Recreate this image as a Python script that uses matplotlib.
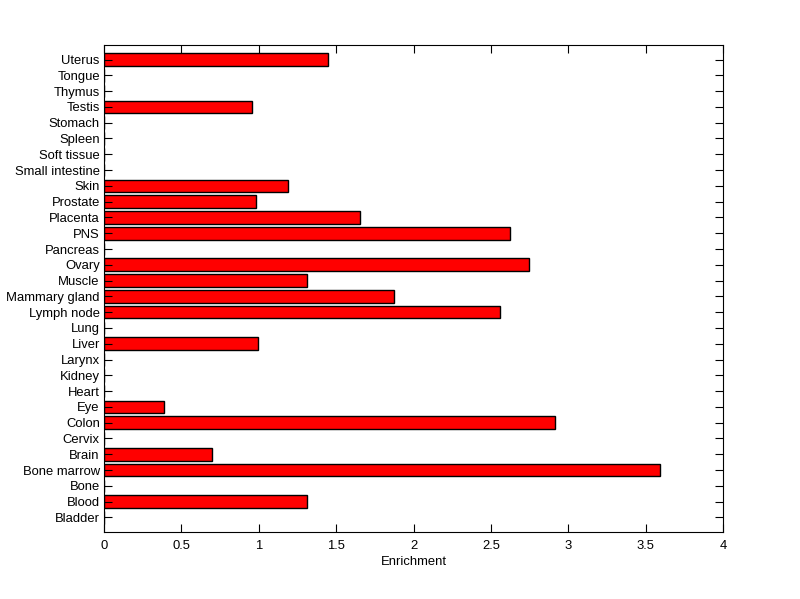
import numpy as np
import matplotlib
matplotlib.use('Agg')
import matplotlib.pyplot as plt

plt.rcParams['font.family'] = ['Liberation Sans', 'DejaVu Sans']

# tissues, bottom to top
tissues = ['Bladder', 'Blood', 'Bone', 'Bone marrow', 'Brain', 'Cervix', 'Colon',
           'Eye', 'Heart', 'Kidney', 'Larynx', 'Liver', 'Lung', 'Lymph node',
           'Mammary gland', 'Muscle', 'Ovary', 'Pancreas', 'PNS', 'Placenta',
           'Prostate', 'Skin', 'Small intestine', 'Soft tissue', 'Spleen',
           'Stomach', 'Testis', 'Thymus', 'Tongue', 'Uterus']
enrichment = [0, 1.311, 0, 3.591, 0.697, 0, 2.914,
              0.388, 0, 0, 0, 0.994, 0, 2.556,
              1.872, 1.311, 2.746, 0, 2.621, 1.653,
              0.981, 1.19, 0, 0, 0,
              0, 0.955, 0, 0, 1.446]

xticks = [0, 0.5, 1, 1.5, 2, 2.5, 3, 3.5, 4]

fig = plt.figure(figsize=(8, 5.99), dpi=100)
ax = fig.add_axes([0.13, 0.1119, 0.774, 0.813])

pos = np.arange(1, len(tissues) + 1)
ax.barh(pos, enrichment, height=0.8, color='#ff0000', edgecolor='black', linewidth=1.0)

ax.set_xlim(0, 4)
ax.set_ylim(0.08, len(tissues) + 0.92)
ax.set_xticks(xticks)
ax.set_xticklabels(['0', '0.5', '1', '1.5', '2', '2.5', '3', '3.5', '4'])
ax.set_yticks(pos)
ax.set_yticklabels(tissues)
ax.tick_params(direction='in', length=5.5, width=0.8, labelsize=9.4,
               top=True, right=True, pad=3)
ax.tick_params(axis='x', pad=6)
for s in ax.spines.values():
    s.set_linewidth(0.8)
ax.set_xlabel('Enrichment', fontsize=9.4, labelpad=3)

fig.savefig('out.png', dpi=100)
